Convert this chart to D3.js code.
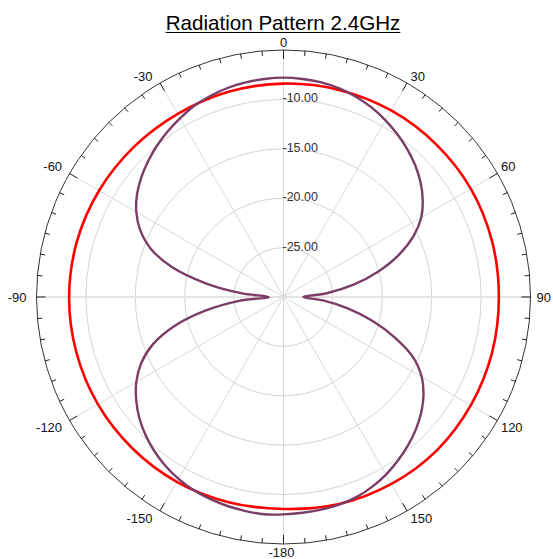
<!DOCTYPE html>
<html>
<head>
<meta charset="utf-8">
<script src="https://cdn.jsdelivr.net/npm/d3@7/dist/d3.min.js"></script>
<style>
  html, body { margin: 0; padding: 0; background: #fff; }
  svg { display: block; font-family: "Liberation Sans", Arial, sans-serif; }
</style>
</head>
<body>
<svg id="chart" width="553" height="559"></svg>
<script>
// Gain (dB) of the vertical element, every 5 degrees clockwise from 0
const patternAngles = d3.range(0, 360, 5);
const verticalGain = [
  -7.8, -7.85, -7.95, -8.15, -8.45, -8.85, -9.35, -9.9, -10.5, -11.15,
  -11.9, -12.8, -13.9, -15.5, -17.6, -20.1, -22.8, -25.6, -28.0, -26.0,
  -23.4, -20.7, -18.0, -15.5, -13.85, -12.7, -11.8, -11.05, -10.4, -9.8,
  -9.25, -8.8, -8.45, -8.25, -8.15, -8.08, -8.0, -7.92, -8.0, -8.1,
  -8.25, -8.45, -8.75, -9.15, -9.65, -10.25, -10.95, -11.8, -12.8, -14.1,
  -15.9, -18.5, -21.9, -25.5, -28.5, -25.8, -22.0, -18.3, -15.7, -14.0,
  -12.8, -11.9, -11.2, -10.6, -10.05, -9.55, -9.1, -8.65, -8.35, -8.1,
  -7.95, -7.85
];

// Gain (dB) of the horizontal element, every 15 degrees
const omniAngles = d3.range(0, 360, 15);
const omniGain = [
  -8.4, -8.3, -8.2, -8.15, -8.1, -8.15, -8.2, -8.15, -8.1, -8.05, -8.15, -8.3,
  -8.55, -8.5, -8.4, -8.35, -8.3, -8.3, -8.3, -8.35, -8.45, -8.55, -8.6, -8.5
];

const angleTicks = [0, 30, 60, 90, 120, 150, 180, 210, 240, 270, 300, 330];
const angleLabels = ["0", "30", "60", "90", "120", "150", "-180", "-150", "-120", "-90", "-60", "-30"];
const ringValues = [-25, -20, -15, -10];
const ringLabels = ["-25.00", "-20.00", "-15.00", "-10.00"];
const gainDomain = [-30, -5];
const titleText = "Radiation Pattern 2.4GHz";

const svg = d3.select("#chart");
const cx = 283.5, cy = 297, R = 247;
const rad = d3.scaleLinear().domain(gainDomain).range([0, R]);
const toRad = d => d * Math.PI / 180;

const g = svg.append("g").attr("transform", `translate(${cx},${cy})`);

// Title with underline
const title = svg.append("text")
  .attr("x", 283).attr("y", 30)
  .attr("text-anchor", "middle")
  .attr("font-size", 20.6)
  .attr("fill", "#000")
  .text(titleText);
const tb = title.node().getBBox();
svg.append("line")
  .attr("x1", tb.x).attr("x2", tb.x + tb.width)
  .attr("y1", 32.5).attr("y2", 32.5)
  .attr("stroke", "#000").attr("stroke-width", 1.2);

// Grid rings
g.selectAll("circle.ring").data(ringValues).join("circle")
  .attr("class", "ring")
  .attr("r", d => rad(d))
  .attr("fill", "none")
  .attr("stroke", "#d4d4d4")
  .attr("stroke-width", 1);

// Spokes every 30 degrees
g.selectAll("line.spoke").data(angleTicks).join("line")
  .attr("class", "spoke")
  .attr("x1", 0).attr("y1", 0)
  .attr("x2", d => R * Math.sin(toRad(d)))
  .attr("y2", d => -R * Math.cos(toRad(d)))
  .attr("stroke", d => (d % 180 === 90) ? "#e3e3e3" : "#d8d8d8")
  .attr("stroke-width", d => (d % 180 === 90) ? 2 : 1);

// Outer angular axis
g.append("circle")
  .attr("r", R)
  .attr("fill", "none")
  .attr("stroke", "#333")
  .attr("stroke-width", 1);

const tickAngles = d3.range(0, 360, 5);
g.selectAll("line.tick").data(tickAngles).join("line")
  .attr("class", "tick")
  .attr("x1", d => R * Math.sin(toRad(d)))
  .attr("y1", d => -R * Math.cos(toRad(d)))
  .attr("x2", d => (R - (d % 30 === 0 ? 9 : 5)) * Math.sin(toRad(d)))
  .attr("y2", d => -(R - (d % 30 === 0 ? 9 : 5)) * Math.cos(toRad(d)))
  .attr("stroke", "#222")
  .attr("stroke-width", 1);

// Angle labels outside the axis
g.selectAll("text.alabel").data(angleTicks).join("text")
  .attr("class", "alabel")
  .each(function (d, i) {
    const s = Math.sin(toRad(d)), c = Math.cos(toRad(d));
    const px = R * s, py = -R * c;
    const t = d3.select(this);
    let x = px, y = py, anchor = "middle", base = "central";
    if (s > 0.01) { anchor = "start"; x = px + (Math.abs(s) > 0.99 ? 6 : 3.5); }
    else if (s < -0.01) { anchor = "end"; x = px - (Math.abs(s) > 0.99 ? 10 : 7.5); }
    if (c > 0.01) { base = "auto"; y = py - (Math.abs(c) > 0.99 ? 3.5 : 2.5); }
    else if (c < -0.01) { base = "hanging"; y = py + (Math.abs(c) > 0.99 ? 3 : 2); }
    if (Math.abs(c) < 0.01) y = py + 0.5;
    if (Math.abs(s) < 0.01 && c < 0) x = px - 2;
    t.attr("x", x).attr("y", y)
      .attr("text-anchor", anchor)
      .attr("dominant-baseline", base)
      .attr("font-size", 13)
      .attr("fill", "#111")
      .text(angleLabels[i]);
  });

// Ring labels along the 0 degree spoke
g.selectAll("text.rlabel").data(ringValues).join("text")
  .attr("class", "rlabel")
  .attr("x", -1)
  .attr("y", d => -rad(d) + 3)
  .attr("font-size", 12.5)
  .attr("fill", "#333")
  .text((d, i) => ringLabels[i]);

// Pattern traces
const radial = d3.lineRadial()
  .curve(d3.curveCatmullRomClosed.alpha(0.5));

g.append("path")
  .datum(omniAngles.map((a, i) => [toRad(a), rad(omniGain[i])]))
  .attr("d", radial)
  .attr("fill", "none")
  .attr("stroke", "#ff0000")
  .attr("stroke-width", 2.6);

g.append("path")
  .datum(patternAngles.map((a, i) => [toRad(a), rad(verticalGain[i])]))
  .attr("d", radial)
  .attr("fill", "none")
  .attr("stroke", "#7b3d66")
  .attr("stroke-width", 2.4)
  .attr("stroke-linejoin", "round");
</script>
</body>
</html>
